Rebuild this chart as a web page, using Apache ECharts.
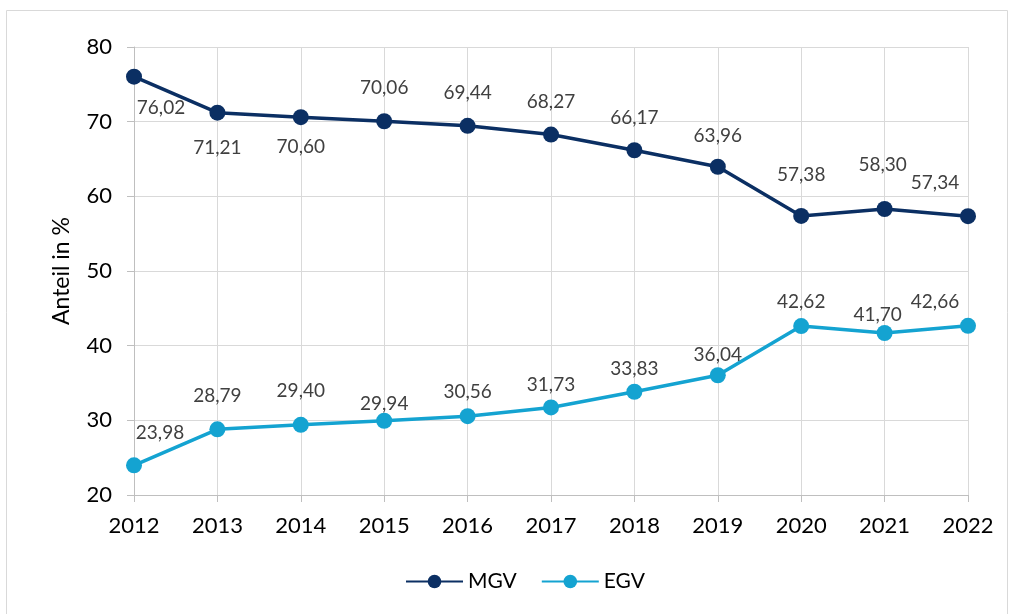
<!DOCTYPE html>
<html>
<head>
<meta charset="utf-8">
<script src="https://cdn.jsdelivr.net/npm/echarts@6/dist/echarts.min.js"></script>
<style>
html,body{margin:0;padding:0;background:#fff;}
#c{width:1013px;height:614px;}
</style>
</head>
<body>
<div id="c"></div>
<script>
var years = ['2012','2013','2014','2015','2016','2017','2018','2019','2020','2021','2022'];
var mgv = [76.02, 71.21, 70.60, 70.06, 69.44, 68.27, 66.17, 63.96, 57.38, 58.30, 57.34];
var egv = [23.98, 28.79, 29.40, 29.94, 30.56, 31.73, 33.83, 36.04, 42.62, 41.70, 42.66];
var yTicks = [20, 30, 40, 50, 60, 70, 80];

// label offsets (style, kept separate from data)
var mgvLabelOffsets = [[27,31],[0,35],[0,30],[0,-33],[0,-33],[0,-33],[0,-32],[0,-31],[0,-41],[-2,-44],[-33,-33]];
var egvLabelOffsets = [[26,-32],[0,-33],[0,-34],[0,-17],[0,-24],[0,-23],[0,-23],[0,-20],[0,-24],[-7,-18],[-33,-24]];

function fmt(v){ return v.toFixed(2).replace('.', ','); }

function buildData(vals, offs){
  return vals.map(function(v,i){
    return {value: v, label: {offset: offs[i]}};
  });
}

var chart = echarts.init(document.getElementById('c'));
var labelStyle = {
  show: true,
  position: 'inside',
  color: '#404040',
  fontSize: 19,
  fontFamily: 'Lato',
  formatter: function(p){ return fmt(p.value); }
};
chart.setOption({
  animation: false,
  graphic: [{
    type: 'rect',
    shape: {x: 6.5, y: 10.5, width: 1001, height: 612},
    style: {fill: 'none', stroke: '#d9d9d9', lineWidth: 1},
    silent: true,
    z: -10
  }],
  grid: {left: 134, right: 45, top: 47, bottom: 119, containLabel: false},
  legend: {
    top: 566,
    left: 400,
    itemWidth: 57,
    itemHeight: 17,
    itemGap: 24,
    textStyle: {color: '#000', fontSize: 21, fontFamily: 'Lato'},
    data: ['MGV', 'EGV']
  },
  xAxis: {
    type: 'category',
    data: years,
    boundaryGap: false,
    axisLine: {lineStyle: {color: '#bfbfbf', width: 1}},
    axisTick: {show: true, length: 7, lineStyle: {color: '#bfbfbf'}},
    axisLabel: {color: '#000', fontSize: 22, fontFamily: 'Lato', margin: 20},
    splitLine: {show: true, lineStyle: {color: '#d9d9d9', width: 1}}
  },
  yAxis: {
    type: 'value',
    min: yTicks[0],
    max: yTicks[yTicks.length-1],
    interval: 10,
    name: 'Anteil in %',
    nameLocation: 'middle',
    nameGap: 61,
    nameTextStyle: {color: '#000', fontSize: 23, fontFamily: 'Lato'},
    axisLine: {show: true, lineStyle: {color: '#bfbfbf', width: 1}},
    axisTick: {show: true, length: 7, lineStyle: {color: '#bfbfbf'}},
    axisLabel: {color: '#000', fontSize: 22, fontFamily: 'Lato', margin: 22},
    splitLine: {show: true, lineStyle: {color: '#d9d9d9', width: 1}}
  },
  series: [
    {
      name: 'MGV',
      type: 'line',
      data: buildData(mgv, mgvLabelOffsets),
      symbol: 'circle',
      symbolSize: 16,
      itemStyle: {color: '#0b2f63'},
      lineStyle: {color: '#0b2f63', width: 3.5},
      label: labelStyle
    },
    {
      name: 'EGV',
      type: 'line',
      data: buildData(egv, egvLabelOffsets),
      symbol: 'circle',
      symbolSize: 16,
      itemStyle: {color: '#14a3d1'},
      lineStyle: {color: '#14a3d1', width: 3.5},
      label: labelStyle
    }
  ]
});
</script>
</body>
</html>
